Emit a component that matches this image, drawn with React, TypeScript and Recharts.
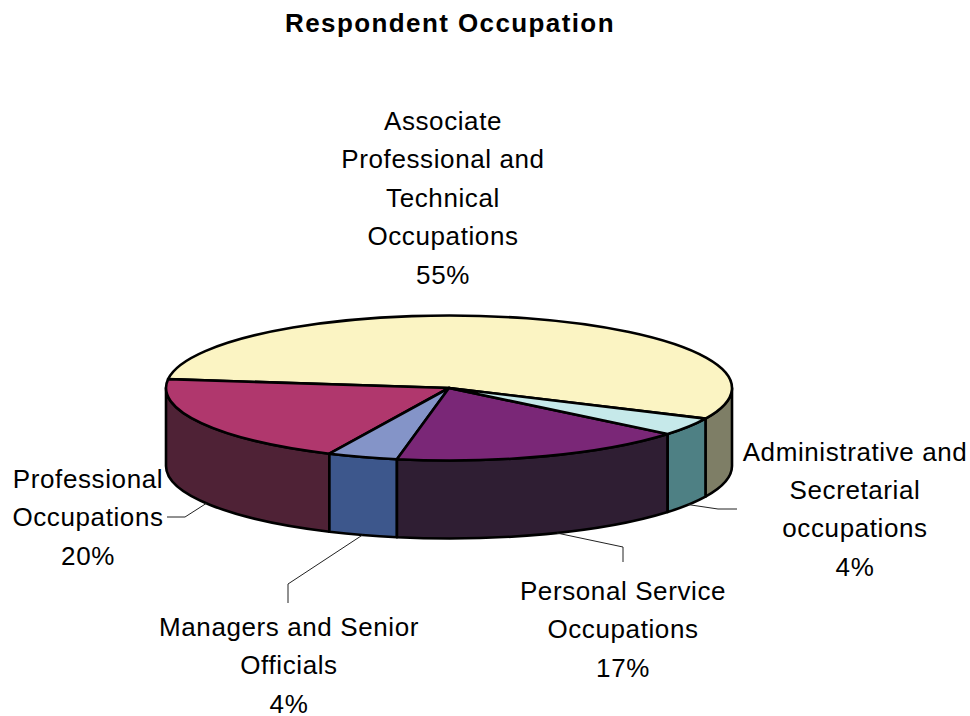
import React from "react";
import { PieChart, Pie } from "recharts";

const categories = [
  "Associate Professional and Technical Occupations",
  "Professional Occupations",
  "Managers and Senior Officials",
  "Personal Service Occupations",
  "Administrative and Secretarial occupations",
];
const values = [55, 20, 4, 17, 4];
const labelLines = [
  ["Associate", "Professional and", "Technical", "Occupations"],
  ["Professional", "Occupations"],
  ["Managers and Senior", "Officials"],
  ["Personal Service", "Occupations"],
  ["Administrative and", "Secretarial", "occupations"],
];
const topColors = ["#FBF4C3", "#B0376D", "#8494C8", "#7A2777", "#C6E9EA"];
const wallColors = ["#7E7E66", "#4F2236", "#3D578C", "#2F1E33", "#4E8084"];

const data = categories.map((name, i) => ({ name, value: values[i], fill: topColors[i] }));

const W = 970;
const H = 716;
const CX = 449;
const CY = 388;
const RX = 283;
const RY = 72.5;
const DEPTH = 78;
const FONT = "'Liberation Sans', Arial, sans-serif";
const LABEL_SIZE = 26;
const LINE_H = 38.4;
const EDGE = 2.6;

// label block: centre x, first baseline
const labelPos = [
  { x: 443, y: 130 },
  { x: 88, y: 488 },
  { x: 289, y: 636 },
  { x: 623, y: 600 },
  { x: 855, y: 460.5 },
];
// leader lines: angle nudge on the rim, then elbow points
const leaders = [
  null,
  { nudge: 2, pts: [[185, 517], [167, 517]] },
  { nudge: 0, pts: [[288, 584], [288, 603]] },
  { nudge: 2.4, pts: [[623, 547], [623, 562]] },
  { nudge: 0, pts: [[718, 509], [737, 509]] },
];

const RAD = Math.PI / 180;
const px = (cx: number, a: number) => cx + RX * Math.cos(a * RAD);
const py = (cy: number, a: number) => cy - RY * Math.sin(a * RAD);

function wallPath(cx: number, cy: number, a: number, b: number) {
  const large = Math.abs(b - a) > 180 ? 1 : 0;
  return [
    `M${px(cx, a)},${py(cy, a)}`,
    `A${RX},${RY} 0 ${large} 0 ${px(cx, b)},${py(cy, b)}`,
    `L${px(cx, b)},${py(cy, b) + DEPTH}`,
    `A${RX},${RY} 0 ${large} 1 ${px(cx, a)},${py(cy, a) + DEPTH}`,
    "Z",
  ].join(" ");
}

function Slice(props: any) {
  const { cx, cy, startAngle, endAngle, fill, index } = props;
  const s = Math.min(startAngle, endAngle);
  const e = Math.max(startAngle, endAngle);
  const large = e - s > 180 ? 1 : 0;
  const walls: React.ReactNode[] = [];
  [[-180, 0], [180, 360]].forEach(([lo, hi], k) => {
    const a = Math.max(s, lo);
    const b = Math.min(e, hi);
    if (b > a) {
      walls.push(
        <path key={k} d={wallPath(cx, cy, a, b)} fill={wallColors[index]} stroke="#000" strokeWidth={EDGE} strokeLinejoin="round" />
      );
    }
  });
  const top = `M${cx},${cy} L${px(cx, s)},${py(cy, s)} A${RX},${RY} 0 ${large} 0 ${px(cx, e)},${py(cy, e)} Z`;
  return (
    <g>
      {walls}
      <path d={top} fill={fill} stroke="#000" strokeWidth={EDGE} strokeLinejoin="round" />
    </g>
  );
}

function renderLabel(props: any) {
  const { index, cx, cy, midAngle } = props;
  const pos = labelPos[index];
  const lines = [...labelLines[index], `${values[index]}%`];
  const lead = leaders[index];
  let line = null;
  if (lead) {
    const a = midAngle + lead.nudge;
    const points = [[px(cx, a), py(cy, a) + DEPTH], ...lead.pts].map((p) => p.join(",")).join(" ");
    line = <polyline points={points} fill="none" stroke="#222" strokeWidth={1} />;
  }
  return (
    <g key={index}>
      {line}
      <text textAnchor="middle" fontFamily={FONT} fontSize={LABEL_SIZE} letterSpacing={0.6} fill="#000">
        {lines.map((t, i) => (
          <tspan key={i} x={pos.x} y={pos.y + i * LINE_H}>
            {t}
          </tspan>
        ))}
      </text>
    </g>
  );
}

export default function App() {
  return (
    <div style={{ position: "absolute", left: 0, top: 0, width: W, height: H, background: "#fff" }}>
      <PieChart width={W} height={H} margin={{ top: 0, right: 0, bottom: 0, left: 0 }}>
        <text x={450} y={32} textAnchor="middle" fontFamily={FONT} fontSize={26} fontWeight="bold" letterSpacing={1.4} fill="#000">
          Respondent Occupation
        </text>
        <Pie
          data={data}
          dataKey="value"
          nameKey="name"
          cx={CX}
          cy={CY}
          innerRadius={0}
          outerRadius={RX}
          startAngle={-25}
          endAngle={335}
          paddingAngle={0}
          isAnimationActive={false}
          shape={Slice}
          label={renderLabel}
          labelLine={false}
        />
      </PieChart>
    </div>
  );
}
